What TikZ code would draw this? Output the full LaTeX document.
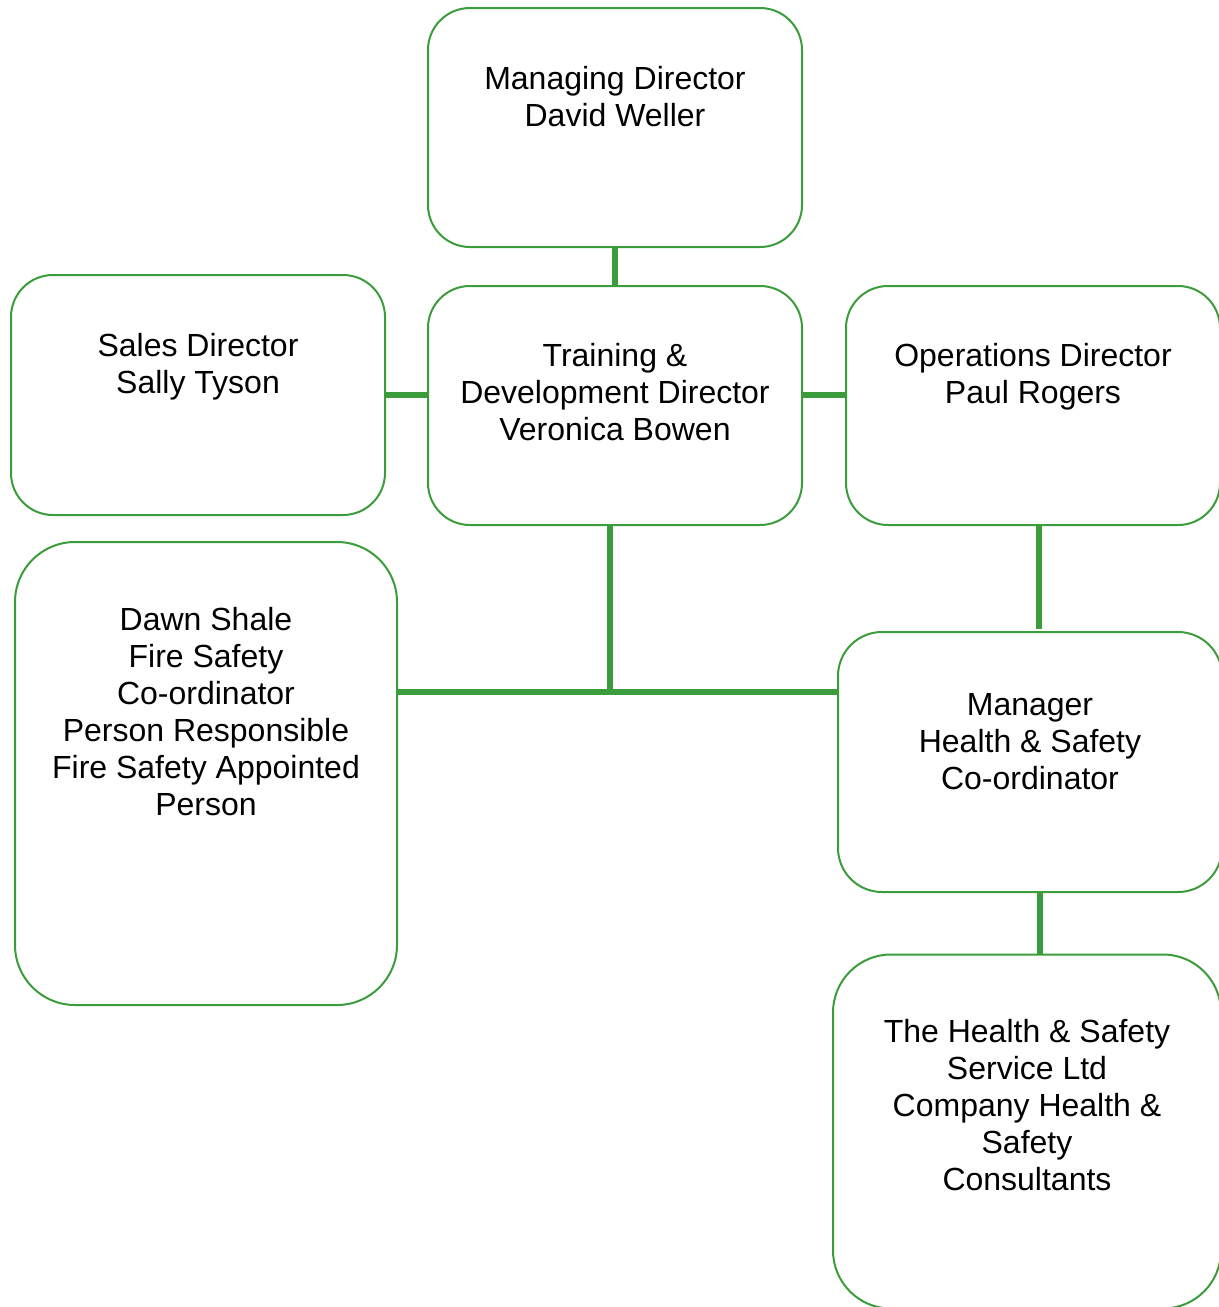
\documentclass[tikz,border=0pt]{standalone}
\usepackage{fontspec}
\setmainfont{Liberation Sans}
\usepackage{tikz}
\usetikzlibrary{calc}
\usepackage{xcolor}
\definecolor{leaf}{RGB}{58,156,58}
\tikzstyle{box} = [draw=leaf,line width=1pt,rectangle,inner sep=0pt]
\tikzstyle{txt} = [anchor=north,align=center,inner sep=0pt,font=\fontsize{16}{18.5}\selectfont]
\tikzstyle{link} = [draw=leaf,line width=2.6pt]

\begin{document}
\begin{tikzpicture}[x=0.5pt,y=-0.5pt]
\clip (0,0) rectangle (1219,1307);

\node[box,minimum width=187pt,minimum height=119.5pt,rounded corners=21pt,
  label={[txt,name=mdtxt,yshift=-29.5pt]north:Managing Director\\David Weller}] (md) at (615,127.5) {};
\node[box,minimum width=187pt,minimum height=120pt,rounded corners=21pt,
  label={[txt,name=salestxt,yshift=-29.5pt]north:Sales Director\\Sally Tyson}] (sales) at (198,395) {};
\node[box,minimum width=187pt,minimum height=119.5pt,rounded corners=21pt,
  label={[txt,name=traintxt,yshift=-29pt]north:Training \&\\Development Director\\Veronica Bowen}] (train) at (615,405.5) {};
\node[box,minimum width=187pt,minimum height=119.5pt,rounded corners=21pt,
  label={[txt,name=opstxt,yshift=-29pt]north:Operations Director\\Paul Rogers}] (ops) at (1033,405.5) {};
\node[box,minimum width=191pt,minimum height=231.5pt,rounded corners=30pt,
  label={[txt,name=dawntxt,yshift=-33pt]north:Dawn Shale\\Fire Safety\\Co-ordinator\\Person Responsible\\Fire Safety Appointed\\Person}] (dawn) at (206,773.5) {};
\node[box,minimum width=192pt,minimum height=130pt,rounded corners=22pt,
  label={[txt,name=mgrtxt,yshift=-31pt]north:Manager\\Health \& Safety\\Co-ordinator}] (mgr) at (1030,762) {};
\node[box,minimum width=194pt,minimum height=177pt,rounded corners=29pt,
  label={[txt,name=hstxt,yshift=-32.5pt]north:The Health \& Safety\\Service Ltd\\Company Health \&\\Safety\\Consultants}] (hs) at (1027,1131.5) {};

\coordinate (hub) at (610,692);

\draw[link] (md.south) -- (train.north);
\draw[link] (sales.east) -- (sales.east -| train.west);
\draw[link] (train.east |- sales.east) -- (ops.west |- sales.east);
\draw[link] (train.south -| hub) -- (hub);
\draw[link] (dawn.east |- hub) -- (mgr.west |- hub);
\draw[link] ([xshift=3pt]ops.south) -- ($([xshift=3pt]ops.south |- mgr.north)+(0,-2)$);
\draw[link] ([xshift=5pt]mgr.south) -- ([xshift=5pt]mgr.south |- hs.north);
\end{tikzpicture}
\end{document}
